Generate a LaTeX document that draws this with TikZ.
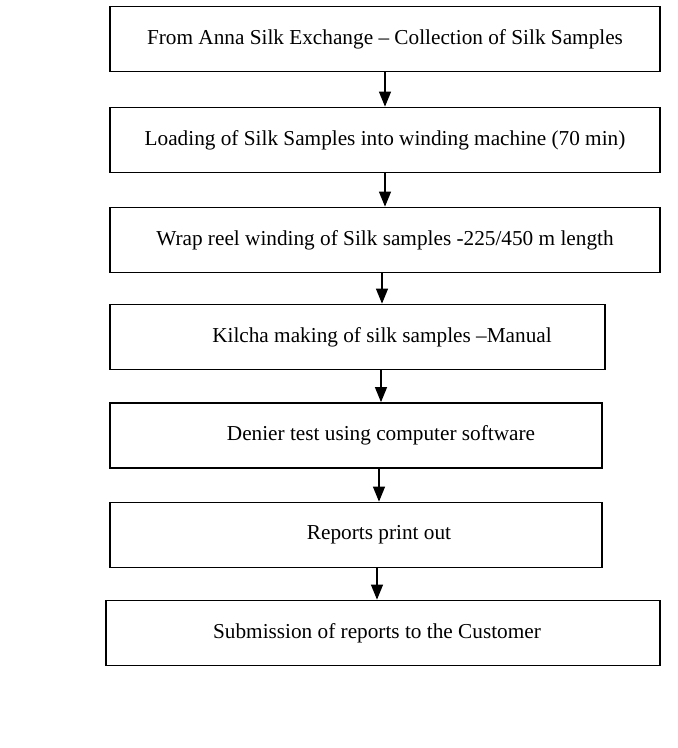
\documentclass[tikz,border=0pt]{standalone}
\usepackage{fontspec}
\setmainfont{Liberation Serif}
\usetikzlibrary{arrows.meta}

\begin{document}
\begin{tikzpicture}[x=0.02cm, y=-0.02cm,
    stepbox/.style={draw, line width=1pt, inner sep=0pt, minimum height=1.3cm},
    steptext/.style={inner sep=0pt, font=\fontsize{12.1pt}{14.5pt}\selectfont},
    flow/.style={-{Triangle[length=0.3cm, width=0.24cm]}, line width=0.65pt}]

    % page size
    \useasboundingbox (0,0) rectangle (678,748);

    % process boxes
    \node[stepbox, minimum width=11cm] (collectbox) at (385,39) {};
    \node[stepbox, minimum width=11cm] (loadbox) at (385,140) {};
    \node[stepbox, minimum width=11cm] (wrapbox) at (385,240) {};
    \node[stepbox, minimum width=9.9cm] (kilchabox) at (357.5,337) {};
    \node[stepbox, minimum width=9.84cm] (denierbox) at (356,435.5) {};
    \node[stepbox, minimum width=9.84cm] (reportbox) at (356,535) {};
    \node[stepbox, minimum width=11.08cm] (submitbox) at (383,633) {};

    % box texts
    \node[steptext] (collect) at (385,39) {From Anna Silk Exchange – Collection of Silk Samples};
    \node[steptext] (load) at (385,140) {Loading of Silk Samples into winding machine (70 min)};
    \node[steptext] (wrap) at (385,240) {Wrap reel winding of Silk samples -225/450 m length};
    \node[steptext] (kilcha) at (382,337) {Kilcha making of silk samples –Manual};
    \node[steptext] (denier) at (381,435.5) {Denier test using computer software};
    \node[steptext] (report) at (379,535) {Reports print out};
    \node[steptext] (submit) at (377,633) {Submission of reports to the Customer};

    % arrows
    \draw[flow] (load |- collectbox.south) -- (load |- loadbox.north);
    \draw[flow] (wrap |- loadbox.south) -- (wrap |- wrapbox.north);
    \draw[flow] (kilcha |- wrapbox.south) -- (kilcha |- kilchabox.north);
    \draw[flow] (denier |- kilchabox.south) -- (denier |- denierbox.north);
    \draw[flow] (report |- denierbox.south) -- (report |- reportbox.north);
    \draw[flow] (submit |- reportbox.south) -- (submit |- submitbox.north);
\end{tikzpicture}
\end{document}
